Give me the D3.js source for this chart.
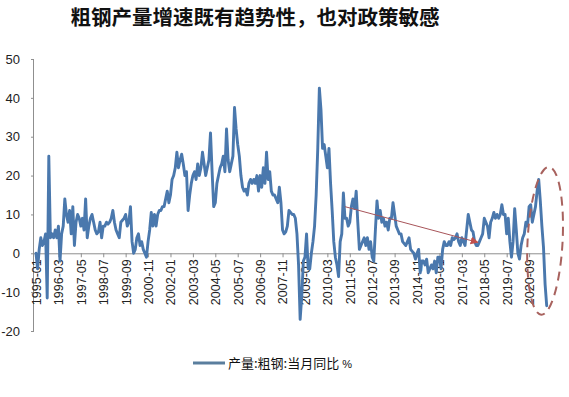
<!DOCTYPE html>
<html><head><meta charset="utf-8">
<script src="https://cdn.jsdelivr.net/npm/d3@7"></script>
<style>
body{margin:0;background:#fff;}
svg{display:block;}
</style></head>
<body>
<svg id="c" width="569" height="397"></svg>
<script>
// ---- data ----
const title = "粗钢产量增速既有趋势性，也对政策敏感";
const seriesName = "产量:粗钢:当月同比";
const unit = "%";
const startYear = 1995, endYear = 2021, endMonth = 8;
const yTicks = [-20, -10, 0, 10, 20, 30, 40, 50];
const tickLabels = ["1995-01","1996-03","1997-05","1998-07","1999-09","2000-11","2002-01","2003-03",
  "2004-05","2005-07","2006-09","2007-11","2009-01","2010-03","2011-05","2012-07","2013-09",
  "2014-11","2016-01","2017-03","2018-05","2019-07","2020-09"];
const values = [
  0, -4, 1, 4, 2, 3, 5, -11.5, 25, 4, 5, 4,            // 1995
  6, 4, 7, -2, 5, 7, 14, 10, 8, 11, 5, 12,             // 1996
  2, 8, 10, 9, 7, 9, 6, 14, 4, 7, 9, 10,               // 1997
  8, 6, 5, 5.5, 8, 4, 7, 7, 8, 7.5, 8, 9,              // 1998
  11, 8, 6, 5, 4, 8, 8.5, 9, 10, 7, 8, 12,             // 1999
  3, 0, 1, 4, 5, 2, 3, 1, 0, -1, 3, 6,                 // 2000
  10.5, 7, 10, 7, 10, 11, 11, 12, 12, 14, 16, 13,      // 2001
  15, 19, 20, 22, 26, 22, 24, 25.5, 23, 20, 21, 11,    // 2002
  15, 18, 20, 21, 19, 23, 20, 22, 26, 23, 20, 22,      // 2003
  24, 31, 21, 12, 13, 18, 20, 22, 23, 25, 21, 32,      // 2004
  24, 21, 23, 25, 37.5, 32, 28, 25, 20, 17, 16, 16.5,  // 2005
  15, 18, 19, 18, 19, 18, 20, 16, 20, 17, 22, 18,      // 2006
  26, 19, 21, 16, 15, 15, 14, 13, 17, 13, 6, 5,        // 2007
  5.5, 7, 11, 10.5, 10, 10, 9, 5, -3, -17, -11, -2,    // 2008
  -1, 5, -4, -4, 0, 3, 7, 15, 27, 42.5, 37, 27,        // 2009
  28, 25, 22, 27, 18, 11, 3, -1, -3, -6, 3, 5,         // 2010
  15.5, 9, 9, 7, 8, 12, 14, 11.5, 16, 8, 1, 2,         // 2011
  3, 4, 2, 4, 1, 3, -1, -2, 6, 13.5, 9, 11,            // 2012
  8, 9, 7, 8, 6, 9, 9, 13, 10, 7, 6, 5,                // 2013
  5, 3, 2.5, 2, 3, 4, 1, 0.5, 0, -1.5, 0, 1,           // 2014
  -5, -2, -2, -3, -1.5, -5, -4, -3, -4, -2, -5, -1,    // 2015
  -1, -4, 1, 3, 2, 2, 3, 2, 4, 3.5, 4, 5,              // 2016
  3, 2, 4, 3, 2, 6, 10, 8, 6, 5.5, 3, 2,               // 2017
  2, 3, 4, 5, 9, 8, 7, 4, 8, 9, 10.5, 9,               // 2018
  10, 9, 10, 12.5, 10, 10, 5, 9, 3, -1, 3, 11.5,       // 2019
  6, 0, -1.5, 2, 4, 5, 8, 7, 12, 12.5, 8, 10,          // 2020
  12, 16, 19, 13.5, 7, 1.5, -8, -13.5                  // 2021
];
// annotation (data units): trend arrow and highlight ellipse
const arrowFrom = ["2011-02", 12], arrowTo = ["2018-01", 2.8];
const ellipseCenter = ["2021-07", 3.2];

// ---- build ----
const months = [];
for (let yr = startYear; yr <= endYear; yr++) {
  for (let m = 1; m <= 12; m++) {
    if (yr === endYear && m > endMonth) break;
    months.push(yr + "-" + String(m).padStart(2, "0"));
  }
}
const data = months.map((m, i) => ({ m, v: values[i] }));

const svg = d3.select("#c");
const x = d3.scalePoint().domain(months).range([36, 546.7]);
const y = d3.scaleLinear().domain([-20, 50]).range([331, 59]);
const axisColor = "#8f8f8f";
const latin = "'Liberation Sans', Arial, sans-serif";
const cjk = "'Noto Sans CJK SC', sans-serif";

// title
svg.append("text").attr("x", 255).attr("y", 25).attr("text-anchor", "middle")
  .attr("font-family", cjk).attr("font-weight", "bold").attr("font-size", 20.5)
  .attr("fill", "#111").text(title);

// y axis
const ya = svg.append("g").attr("transform", "translate(34,0)")
  .call(d3.axisLeft(y).tickValues(yTicks).tickSize(3).tickPadding(11).tickFormat(d => String(d)));
ya.select(".domain").attr("stroke", axisColor).attr("d", `M-0.5,${y(-20)}V${y(50)}`);
ya.selectAll(".tick line").attr("stroke", axisColor);
ya.selectAll(".tick text").attr("font-family", latin).attr("font-size", 13).attr("fill", "#222");

// x axis on zero line
const xa = svg.append("g").attr("transform", `translate(0,${y(0)})`)
  .call(d3.axisBottom(x).tickValues(tickLabels).tickSize(4).tickPadding(5));
xa.select(".domain").attr("stroke", axisColor).attr("d", "M34,0.5H550");
xa.selectAll(".tick line").attr("stroke", axisColor);
xa.selectAll(".tick text").attr("font-family", latin).attr("font-size", 12.5).attr("fill", "#222")
  .attr("transform", "rotate(-90)").attr("text-anchor", "end").attr("dy", "0.35em")
  .attr("x", -6).attr("y", 0);

// series line
const line = d3.line().x(d => x(d.m)).y(d => y(d.v));
svg.append("path").datum(data).attr("d", line).attr("fill", "none")
  .attr("stroke", "#4a78ad").attr("stroke-width", 2.9)
  .attr("stroke-linejoin", "round").attr("stroke-linecap", "round");

// arrow
svg.append("defs").append("marker").attr("id", "ah").attr("viewBox", "0 0 10 10")
  .attr("refX", 9).attr("refY", 5).attr("markerWidth", 8).attr("markerHeight", 8)
  .attr("orient", "auto").append("path").attr("d", "M0,0L10,5L0,10z").attr("fill", "#c0504d");
svg.append("line")
  .attr("x1", x(arrowFrom[0])).attr("y1", y(arrowFrom[1]))
  .attr("x2", x(arrowTo[0])).attr("y2", y(arrowTo[1]))
  .attr("stroke", "#a8555a").attr("stroke-width", 1).attr("marker-end", "url(#ah)");

// dashed ellipse
const ex = x(ellipseCenter[0]), ey = y(ellipseCenter[1]);
svg.append("ellipse").attr("cx", ex).attr("cy", ey).attr("rx", 17.5).attr("ry", 74)
  .attr("transform", `rotate(3,${ex},${ey})`)
  .attr("fill", "none").attr("stroke", "#a8625e").attr("stroke-width", 2)
  .attr("stroke-dasharray", "9,6");

// legend
const lg = svg.append("g");
lg.append("line").attr("x1", 193).attr("x2", 225).attr("y1", 363).attr("y2", 363)
  .attr("stroke", "#5a7e9e").attr("stroke-width", 3);
const lt = lg.append("text").attr("x", 228).attr("y", 368).attr("font-family", cjk)
  .attr("font-size", 13).attr("fill", "#111");
lt.append("tspan").text(seriesName + " ");
lt.append("tspan").attr("font-size", 11).attr("font-family", latin).text(unit);
</script>
</body></html>
